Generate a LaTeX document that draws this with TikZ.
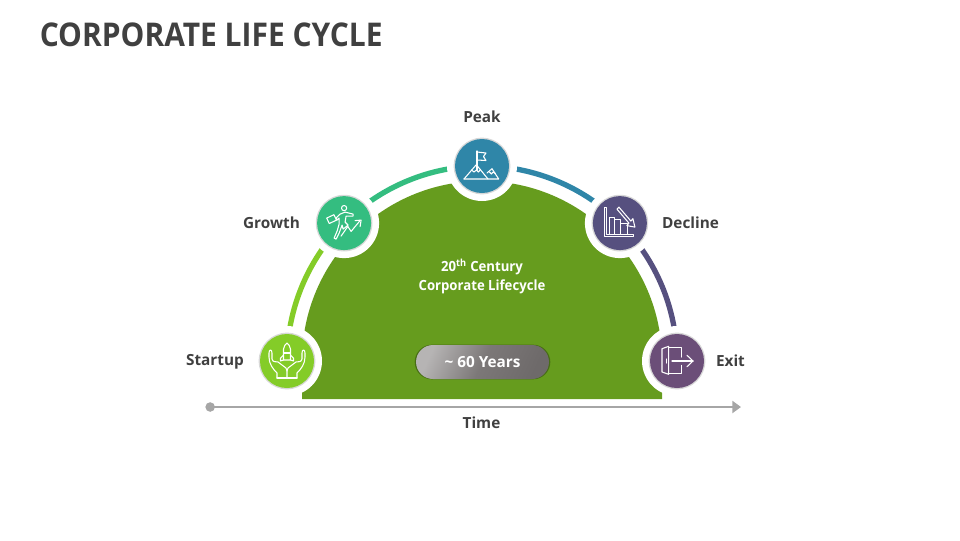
\documentclass[tikz,border=0pt]{standalone}
\usepackage{fontspec}
\setmainfont{Open Sans}
\newfontfamily\titlefont[FakeStretch=0.917]{Open Sans}
\newfontfamily\domefont[FakeStretch=0.94]{Open Sans}
\usetikzlibrary{positioning}
\usetikzlibrary{arrows.meta}
\usetikzlibrary{calc}
\usetikzlibrary{shadows}
\definecolor{titlegray}{HTML}{404040}
\definecolor{domegreen}{HTML}{669C1E}
\definecolor{cstartup}{HTML}{84CC28}
\definecolor{cgrowth}{HTML}{34BD80}
\definecolor{cpeak}{HTML}{2F86A8}
\definecolor{cdecline}{HTML}{56507F}
\definecolor{cexit}{HTML}{6B4E78}
\definecolor{axisgray}{HTML}{A6A6A6}
\definecolor{pilllight}{HTML}{B6B4B4}
\definecolor{pillmid}{HTML}{7C7878}
\definecolor{pilldark}{HTML}{6E6A6A}
\tikzset{
    halo/.style = {circle, fill=white, minimum size=52.5pt, inner sep=0pt},
    stage/.style = {circle, minimum size=40.5pt, inner sep=0pt, fill=#1,
        drop shadow={shadow xshift=0pt,shadow yshift=0pt,opacity=0.3,shadow scale=1.05}},
    stagelabel/.style = {font=\fontsize{11.5pt}{14pt}\selectfont\bfseries, text=titlegray},
    domelabel/.style = {font=\fontsize{10.5pt}{14.5pt}\domefont\selectfont\bfseries, text=white, align=center},
    edgearc/.style = {line width=4pt, draw=#1, bend left=22.5, looseness=0.885},
    iconline/.style = {draw=white, line width=0.8pt, line join=round, line cap=round},
}

\begin{document}
\begin{tikzpicture}[x=0.75pt,y=-0.75pt]
\useasboundingbox (0,0) rectangle (960,540);
%
\node[font=\fontsize{24.5pt}{28pt}\titlefont\selectfont\bfseries,text=titlegray,anchor=west,inner sep=0pt] at (39.5,35) (title) {CORPORATE LIFE CYCLE};
%
\fill[domegreen] (302,399) -- (302,361) arc[start angle=-180,end angle=0,radius=180] -- (662,399) -- cycle;
%
\coordinate (c1) at (287,361);
\coordinate (c2) at (344.1,223.1);
\coordinate (c3) at (482,166);
\coordinate (c4) at (619.9,223.1);
\coordinate (c5) at (677,361);
%
\draw[edgearc=cstartup] (c1) to (c2);
\draw[edgearc=cgrowth] (c2) to (c3);
\draw[edgearc=cpeak] (c3) to (c4);
\draw[edgearc=cdecline] (c4) to (c5);
%
\node[halo] at (c1) (h1) {};
\node[halo] at (c2) (h2) {};
\node[halo] at (c3) (h3) {};
\node[halo] at (c4) (h4) {};
\node[halo] at (c5) (h5) {};
\node[stage=cstartup] at (c1) (startup) {};
\node[stage=cgrowth] at (c2) (growth) {};
\node[stage=cpeak] at (c3) (peak) {};
\node[stage=cdecline] at (c4) (decline) {};
\node[stage=cexit] at (c5) (exit) {};
%
\node[stagelabel] at (215,361.5) (lstartup) {Startup};
\node[stagelabel] at (271.5,223) (lgrowth) {Growth};
\node[stagelabel] at (482,116.5) (lpeak) {Peak};
\node[stagelabel] at (690.5,223) (ldecline) {Decline};
\node[stagelabel] at (730.5,360.5) (lexit) {Exit};
\node[stagelabel] at (481.5,423) (ltime) {Time};
%
\node[domelabel] at (482,276.5) (century) {20\textsuperscript{th} Century\\Corporate Lifecycle};
\node[rounded corners=12.7pt,minimum width=99.7pt,minimum height=25.5pt,inner sep=0pt,
    left color=pilllight,right color=pilldark,middle color=pillmid,shading angle=65,
    drop shadow={shadow xshift=0pt,shadow yshift=0pt,opacity=0.6,shadow scale=1.02,fill=domegreen!50!black},
    font=\fontsize{11.5pt}{14pt}\selectfont\bfseries,text=white] at (482.5,362) (years) {\textasciitilde{} 60 Years};
%
\coordinate (tstart) at (205.5,407);
\coordinate (tend) at (741,407);
\draw[draw=axisgray,fill=axisgray,line width=2.2pt,{Circle[length=7pt]}-{Triangle[length=6.5pt,width=9pt]}] (tstart) -- (tend);
%
% startup icon
\begin{scope}[shift={(c1)},iconline]
\draw (-3.5,-1) -- (-3.5,-12) .. controls (-3.5,-15) and (-1,-17) .. (0,-18) .. controls (1,-17) and (3.5,-15) .. (3.5,-12) -- (3.5,-1) -- cycle;
\draw (-3.5,-8) -- (3.5,-8);
\draw (-3.5,-6) -- (-6.5,-3) -- (-6.5,0) -- (-3.5,-1);
\draw (3.5,-6) -- (6.5,-3) -- (6.5,0) -- (3.5,-1);
\draw (-10,17) -- (10,17);
\draw (-10,17) -- (-10,12) .. controls (-14,8) and (-18,3) .. (-18,-4) -- (-18,-8) .. controls (-18,-12) and (-15,-12) .. (-15,-8) -- (-15,-2) .. controls (-14,2) and (-11,0) .. (-9,1) -- (-1,7) -- (0,10);
\draw (10,17) -- (10,12) .. controls (14,8) and (18,3) .. (18,-4) -- (18,-8) .. controls (18,-12) and (15,-12) .. (15,-8) -- (15,-2) .. controls (14,2) and (11,0) .. (9,1) -- (1,7) -- (0,10) -- (0,17);
\end{scope}
% growth icon
\begin{scope}[shift={(c2)},iconline]
\draw (0,-15) circle (2.6);
\draw (-4,-9) -- (1,-11) -- (9,-9) -- (9,-7) -- (2,-7) -- (1,-1) -- (4,2) -- (-1,6) -- (-2,2) -- (-5,10) -- (-8,16) -- (-10,15) -- (-7,8) -- (-5,1) -- (-5,-5) -- (-7,-3) -- (-8,-5) -- cycle;
\draw[rotate around={25:(-12.5,-4)}] (-16.5,-7) rectangle (-8.5,-1);
\draw (-3,13) -- (3.7,3.3) -- (7,8.3) -- (15.3,-1.7);
\draw (11,-2.5) -- (17,-3) -- (16,3.5);
\end{scope}
% peak icon
\begin{scope}[shift={(c3)},iconline]
\draw (-5,4) -- (-5,-15);
\draw (-5,-14) -- (4,-13) -- (1.5,-9.5) -- (4,-5.5) -- (-5,-6);
\draw (-18,13) -- (-5.7,-1.3) -- (6,13);
\draw (5,7) -- (10,2.7) -- (16.7,13) -- (-18,13);
\draw (-10.5,4) -- (-8,6) -- (-5.5,4) -- (-3.5,6) -- (-1.5,3.5);
\draw (7.5,6) -- (9.5,8) -- (11,6) -- (13.5,7.5);
\end{scope}
% decline icon
\begin{scope}[shift={(c4)},iconline]
\draw (-15,-16) -- (-13,-16) -- (-13,11) -- (14,11) -- (14,13.3) -- (-15,13.3) -- cycle;
\draw (-10.7,11) -- (-10.7,-5.7) -- (-5,-5.7) -- (-5,11);
\draw (-5,-3.3) -- (1,-3.3) -- (1,11);
\draw (1,0) -- (7.3,0) -- (7.3,11);
\draw (-3,-14) -- (-1,-16) -- (11,-2) -- (13,-4.5) -- (15,4) -- (7,2.5) -- (9,0) -- cycle;
\end{scope}
% exit icon
\begin{scope}[shift={(c5)},iconline]
\draw (-15,-12.3) -- (-15,11) -- (-8.3,13.3) -- (-8.3,-14.7) -- cycle;
\draw (-10.5,-2) -- (-10.5,2);
\draw (-8.3,-13.3) -- (4.3,-13.3) -- (4.3,-4);
\draw (4.3,4.3) -- (4.3,12.7) -- (-8.3,12.7);
\draw (-5,0) -- (16,0);
\draw (10,-5.7) -- (16,0) -- (10,5.7);
\end{scope}
%
\end{tikzpicture}
\end{document}
